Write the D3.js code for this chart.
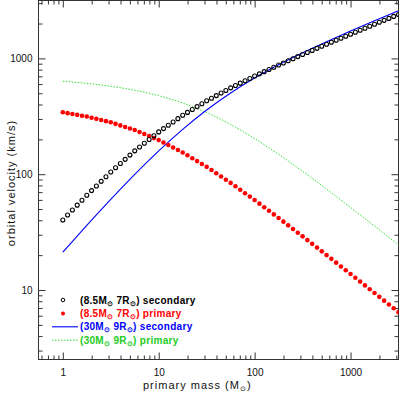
<!DOCTYPE html>
<html>
<head>
<meta charset="utf-8">
<script src="https://cdn.jsdelivr.net/npm/d3@7"></script>
<style>
body { margin: 0; background: #fff; }
text { font-family: "Liberation Sans", Arial, sans-serif; }
</style>
</head>
<body>
<div id="chart"></div>
<script>
// primary mass (Msun) for each marker
var masses = [1, 1.122, 1.259, 1.413, 1.585, 1.778, 1.995, 2.239, 2.512, 2.818,
    3.162, 3.548, 3.981, 4.467, 5.012, 5.623, 6.310, 7.079, 7.943, 8.913,
    10, 11.22, 12.59, 14.13, 15.85, 17.78, 19.95, 22.39, 25.12, 28.18,
    31.62, 35.48, 39.81, 44.67, 50.12, 56.23, 63.10, 70.79, 79.43, 89.13,
    100, 112.2, 125.9, 141.3, 158.5, 177.8, 199.5, 223.9, 251.2, 281.8,
    316.2, 354.8, 398.1, 446.7, 501.2, 562.3, 631.0, 707.9, 794.3, 891.3,
    1000, 1122, 1259, 1413, 1585, 1778, 1995, 2239, 2512, 2818, 3162];

// (8.5Msun 7Rsun) secondary, km/s
var sec85 = [40.27, 44.44, 49.02, 54.08, 59.67, 65.82, 72.18, 79.15, 86.80, 95.19,
    104.4, 113.6, 123.6, 134.4, 146.2, 159.1, 171.6, 185.0, 199.5, 215.1,
    231.9, 247.7, 264.6, 282.7, 301.9, 322.5, 341.7, 362.0, 383.6, 406.4,
    430.5, 453.2, 477.2, 502.4, 528.9, 556.7, 583.4, 611.4, 640.8, 671.5,
    703.7, 735.3, 768.3, 802.8, 838.8, 876.4, 913.9, 953.1, 993.9, 1036.5,
    1080.8, 1125.8, 1172.6, 1221.4, 1272.2, 1325.0, 1379, 1435.3, 1493.9, 1554.8,
    1617.9, 1682.9, 1750.6, 1821.0, 1894.2, 1970.7, 2049.3, 2131.1, 2216.1, 2304.5, 2396.4];

// (8.5Msun 7Rsun) primary, km/s
var pri85 = [342.3, 336.6, 331.0, 325.5, 320.0, 314.7, 307.6, 300.6, 293.8, 287.1,
    280.6, 272.1, 263.9, 255.9, 248.1, 240.6, 231.2, 222.2, 213.5, 205.1,
    197.1, 187.7, 178.7, 170.1, 162.0, 154.2, 145.6, 137.5, 129.8, 122.5,
    115.7, 108.6, 101.9, 95.59, 89.69, 84.16, 78.60, 73.41, 68.57, 64.04,
    59.81, 55.70, 51.88, 48.31, 44.99, 41.90, 38.94, 36.19, 33.64, 31.27,
    29.06, 26.98, 25.04, 23.25, 21.58, 20.03, 18.58, 17.23, 15.98, 14.82,
    13.75, 12.75, 11.82, 10.96, 10.16, 9.421, 8.731, 8.092, 7.500, 6.951, 6.442];

// masses for the two (30Msun 9Rsun) curves
var lineMasses = [1, 1.778, 3.162, 5.623, 10, 17.78, 31.62, 56.23, 100, 177.8, 316.2, 562.3, 1000, 1778, 3162];
var sec30 = [21.19, 36.09, 60.57, 99.51, 158.8, 244.1, 358.8, 503.4, 676.9, 880.0, 1116.6, 1393.8, 1721.7, 2112.4, 2581.1];
var pri30 = [635.6, 609.0, 574.6, 530.9, 476.5, 412.0, 340.5, 268.6, 203.1, 148.5, 105.9, 74.36, 51.65, 35.64, 24.49];

var xTicks = [1, 10, 100, 1000];
var yTicks = [10, 100, 1000];

var legendMass = ["8.5", "8.5", "30", "30"];
var legendRad = ["7", "7", "9", "9"];
var legendRole = ["secondary", "primary", "secondary", "primary"];
var legendColor = ["#000", "#f00", "#00f", "#2c2"];

var svgWidth = 400;
var svgHeight = 396;
var margin = {top: 0.5, right: 1.5, bottom: 36.5, left: 38.5};
var width = svgWidth - margin.left - margin.right;
var height = svgHeight - margin.top - margin.bottom;

var svg = d3.select("#chart").append("svg")
    .attr("width", svgWidth)
    .attr("height", svgHeight);

var chartGroup = svg.append("g")
    .attr("transform", `translate(${margin.left}, ${margin.top})`);

var x = d3.scaleLog().domain([0.558, 3162]).range([0, width]);
var y = d3.scaleLog().domain([2.512, 3162]).range([height, 0]);

// minor tick positions
var xMinor = [], yMinor = [];
[0.1, 1, 10, 100, 1000].forEach(function(d) {
    d3.range(2, 10).forEach(function(m) {
        var v = d * m;
        if (v > 0.558 && v < 3162) xMinor.push(v);
        if (v > 2.512 && v < 3162) yMinor.push(v);
    });
});

function addAxis(axis, tf) {
    var g = chartGroup.append("g");
    if (tf) g.attr("transform", tf);
    g.call(axis);
    g.select(".domain").remove();
    g.selectAll("line").attr("stroke", "#333");
    g.selectAll("text").attr("font-size", 10).attr("fill", "#111");
    return g;
}

addAxis(d3.axisBottom(x).tickValues(xTicks).tickSize(-7).tickPadding(9).tickFormat(d3.format("d")), `translate(0, ${height})`);
addAxis(d3.axisBottom(x).tickValues(xMinor).tickSize(-4).tickFormat(""), `translate(0, ${height})`);
addAxis(d3.axisTop(x).tickValues(xTicks).tickSize(-7).tickFormat(""));
addAxis(d3.axisTop(x).tickValues(xMinor).tickSize(-4).tickFormat(""));
addAxis(d3.axisLeft(y).tickValues(yTicks).tickSize(-7).tickPadding(6).tickFormat(d3.format("d")));
addAxis(d3.axisLeft(y).tickValues(yMinor).tickSize(-4).tickFormat(""));
addAxis(d3.axisRight(y).tickValues(yTicks).tickSize(-7).tickFormat(""), `translate(${width}, 0)`);
addAxis(d3.axisRight(y).tickValues(yMinor).tickSize(-4).tickFormat(""), `translate(${width}, 0)`);

chartGroup.append("rect")
    .attr("width", width)
    .attr("height", height)
    .attr("fill", "none")
    .attr("stroke", "#333")
    .attr("stroke-width", 1);

svg.append("clipPath").attr("id", "plotclip")
    .append("rect").attr("width", width).attr("height", height);

var plot = chartGroup.append("g").attr("clip-path", "url(#plotclip)");

var line = d3.line()
    .x(d => x(d[0]))
    .y(d => y(d[1]))
    .curve(d3.curveNatural);

plot.append("path")
    .datum(d3.zip(lineMasses, pri30))
    .attr("d", line)
    .attr("fill", "none")
    .attr("stroke", "#3d3")
    .attr("stroke-width", 1)
    .attr("stroke-dasharray", "1.5,1.5");

plot.append("path")
    .datum(d3.zip(lineMasses, sec30))
    .attr("d", line)
    .attr("fill", "none")
    .attr("stroke", "#00f")
    .attr("stroke-width", 1.1);

plot.selectAll(".pri")
    .data(d3.zip(masses, pri85))
    .enter()
    .append("circle")
    .attr("cx", d => x(d[0]))
    .attr("cy", d => y(d[1]))
    .attr("r", 2.3)
    .attr("fill", "#f00");

plot.selectAll(".sec")
    .data(d3.zip(masses, sec85))
    .enter()
    .append("circle")
    .attr("cx", d => x(d[0]))
    .attr("cy", d => y(d[1]))
    .attr("r", 2)
    .attr("fill", "none")
    .attr("stroke", "#000")
    .attr("stroke-width", 1.1);

// legend
var legend = svg.append("g");
legendRole.forEach(function(role, i) {
    var ly = 300 + i * 13.4;
    var c = legendColor[i];
    if (i == 0) {
        legend.append("circle").attr("cx", 63).attr("cy", ly).attr("r", 1.8)
            .attr("fill", "none").attr("stroke", c).attr("stroke-width", 1);
    } else if (i == 1) {
        legend.append("circle").attr("cx", 63).attr("cy", ly).attr("r", 2).attr("fill", c);
    } else {
        legend.append("line").attr("x1", 52).attr("x2", 78).attr("y1", ly).attr("y2", ly)
            .attr("stroke", i == 2 ? "#00f" : "#3d3").attr("stroke-width", 1.1)
            .attr("stroke-dasharray", i == 3 ? "1.5,1.5" : null);
    }
    var t = legend.append("text")
        .attr("x", 80)
        .attr("y", ly + 3.5)
        .attr("font-size", 10)
        .attr("font-weight", "bold")
        .attr("letter-spacing", 0.3)
        .attr("fill", c);
    t.append("tspan").text("(" + legendMass[i] + "M");
    t.append("tspan").attr("font-size", 6.5).attr("dy", 2).text("\u2299");
    t.append("tspan").attr("dy", -2).text(" " + legendRad[i] + "R");
    t.append("tspan").attr("font-size", 6.5).attr("dy", 2).text("\u2299");
    t.append("tspan").attr("dy", -2).text(") " + role);
});

// axis titles
var xt = svg.append("text")
    .attr("x", 143)
    .attr("y", 389)
    .attr("font-size", 11)
    .attr("letter-spacing", 1)
    .attr("fill", "#111");
xt.append("tspan").text("primary mass (M");
xt.append("tspan").attr("font-size", 7).attr("dy", 2).text("\u2299");
xt.append("tspan").attr("dy", -2).text(")");

svg.append("text")
    .attr("transform", "translate(15, 183) rotate(-90)")
    .attr("text-anchor", "middle")
    .attr("font-size", 11)
    .attr("letter-spacing", 1)
    .attr("fill", "#111")
    .text("orbital velocity (km/s)");
</script>
</body>
</html>
